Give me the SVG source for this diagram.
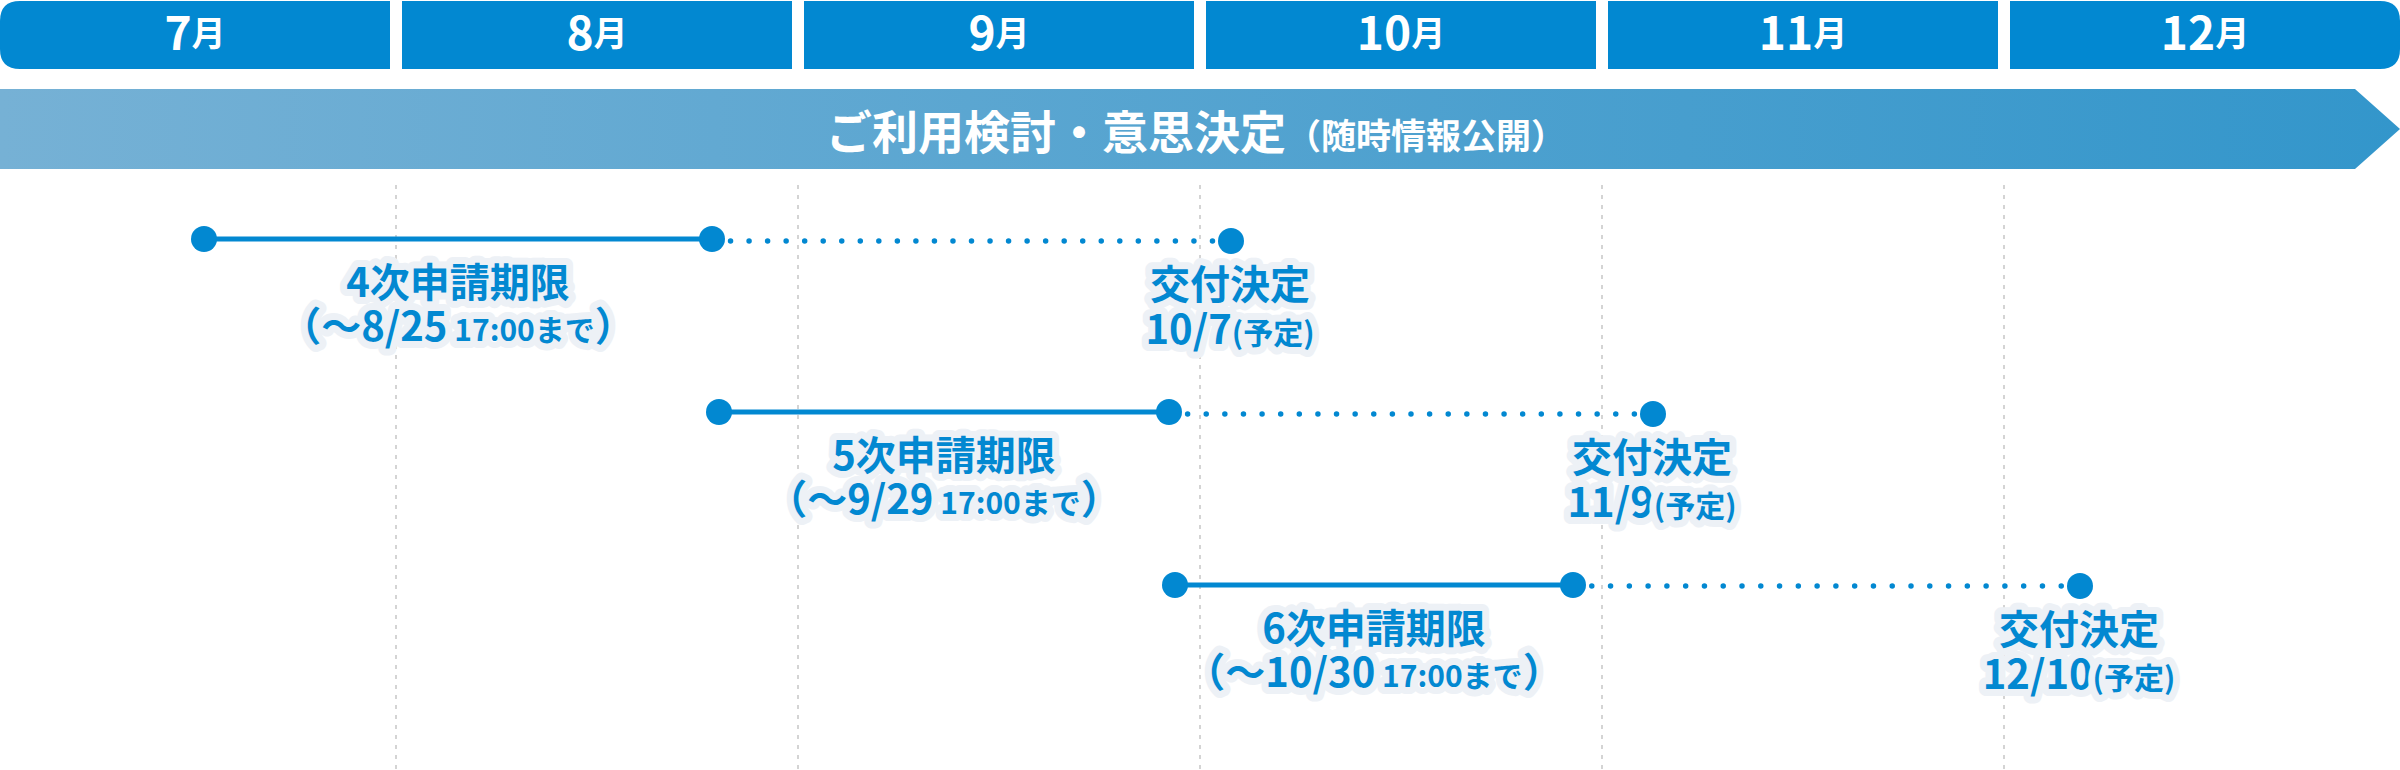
<svg xmlns="http://www.w3.org/2000/svg" width="2400" height="770" viewBox="0 0 2400 770">
  <defs>
    <linearGradient id="bannerGrad" x1="0" y1="0" x2="1" y2="0">
      <stop offset="0" stop-color="#76B1D5"/>
      <stop offset="1" stop-color="#3396CB"/>
    </linearGradient>
    <style>
      text { font-family: "Noto Sans CJK JP", "Noto Sans CJK SC", sans-serif; font-weight: 700; }
      .cell { fill: #0288D1; }
      .month { fill: #FFFFFF; text-anchor: middle; }
      .mnum { font-size: 46px; }
      .mk { font-size: 34px; }
      .title { fill: #FFFFFF; text-anchor: middle; }
      .grid { stroke: #D4D4D4; stroke-width: 2; stroke-dasharray: 4 6; }
      .solid { stroke: #0288D1; stroke-width: 5; }
      .dotted { stroke: #0288D1; stroke-width: 5.5; stroke-linecap: round; }
      .dot { fill: #0288D1; }
      .lbl { fill: #0288D1; stroke: #EDF1F6; stroke-width: 14; stroke-linejoin: round; paint-order: stroke; text-anchor: middle; font-size: 40px; }
      .sm { font-size: 30px; }
    </style>
  </defs>

  <!-- month header -->
  <g id="months">
    <g id="m7">
      <path class="cell" d="M20,1 H390 V69 H20 Q0,69 0,49 V21 Q0,1 20,1 Z"/>
      <text class="month" x="195" y="50"><tspan class="mnum">7</tspan><tspan class="mk" dy="-4">月</tspan></text>
    </g>
    <g id="m8">
      <rect class="cell" x="402" y="1" width="390" height="68"/>
      <text class="month" x="597" y="50"><tspan class="mnum">8</tspan><tspan class="mk" dy="-4">月</tspan></text>
    </g>
    <g id="m9">
      <rect class="cell" x="804" y="1" width="390" height="68"/>
      <text class="month" x="999" y="50"><tspan class="mnum">9</tspan><tspan class="mk" dy="-4">月</tspan></text>
    </g>
    <g id="m10">
      <rect class="cell" x="1206" y="1" width="390" height="68"/>
      <text class="month" x="1401" y="50"><tspan class="mnum">10</tspan><tspan class="mk" dy="-4">月</tspan></text>
    </g>
    <g id="m11">
      <rect class="cell" x="1608" y="1" width="390" height="68"/>
      <text class="month" x="1803" y="50"><tspan class="mnum">11</tspan><tspan class="mk" dy="-4">月</tspan></text>
    </g>
    <g id="m12">
      <path class="cell" d="M2010,1 H2380 Q2400,1 2400,21 V49 Q2400,69 2380,69 H2010 Z"/>
      <text class="month" x="2205" y="50"><tspan class="mnum">12</tspan><tspan class="mk" dy="-4">月</tspan></text>
    </g>
  </g>

  <!-- banner -->
  <g id="banner">
    <path d="M0,89 H2355 L2400,129 L2355,169 H0 Z" fill="url(#bannerGrad)"/>
    <text class="title" x="1196" y="149"><tspan font-size="46">ご利用検討・意思決定</tspan><tspan font-size="35">（随時情報公開）</tspan></text>
  </g>

  <!-- grid lines -->
  <g id="grid">
    <line class="grid" x1="396" y1="185" x2="396" y2="770"/>
    <line class="grid" x1="798" y1="185" x2="798" y2="770"/>
    <line class="grid" x1="1200" y1="185" x2="1200" y2="770"/>
    <line class="grid" x1="1602" y1="185" x2="1602" y2="770"/>
    <line class="grid" x1="2004" y1="185" x2="2004" y2="770"/>
  </g>

  <!-- connectors -->
  <g id="connectors">
    <line class="solid" x1="204" y1="239" x2="712" y2="239"/>
    <line class="dotted" x1="712" y1="241" x2="1231" y2="241" stroke-dasharray="0 18.536"/>
    <line class="solid" x1="719" y1="412" x2="1169" y2="412"/>
    <line class="dotted" x1="1169" y1="414" x2="1653" y2="414" stroke-dasharray="0 18.615"/>
    <line class="solid" x1="1175" y1="585" x2="1573" y2="585"/>
    <line class="dotted" x1="1573" y1="586" x2="2080" y2="586" stroke-dasharray="0 18.778"/>
  </g>

  <!-- row 1 -->
  <g id="r1-start"><circle class="dot" cx="204" cy="239" r="13"/></g>
  <g id="r1-deadline">
    <circle class="dot" cx="712" cy="239" r="13"/>
    <text class="lbl"><tspan x="458" y="297">4次申請期限</tspan><tspan x="458" y="341">（～8/25<tspan class="sm"> 17:00まで</tspan>）</tspan></text>
  </g>
  <g id="r1-decision">
    <circle class="dot" cx="1231" cy="241" r="13"/>
    <text class="lbl"><tspan x="1230" y="299">交付決定</tspan><tspan x="1230" y="344">10/7<tspan class="sm">(予定)</tspan></tspan></text>
  </g>

  <!-- row 2 -->
  <g id="r2-start"><circle class="dot" cx="719" cy="412" r="13"/></g>
  <g id="r2-deadline">
    <circle class="dot" cx="1169" cy="412" r="13"/>
    <text class="lbl"><tspan x="944" y="470">5次申請期限</tspan><tspan x="944" y="514">（～9/29<tspan class="sm"> 17:00まで</tspan>）</tspan></text>
  </g>
  <g id="r2-decision">
    <circle class="dot" cx="1653" cy="414" r="13"/>
    <text class="lbl"><tspan x="1652" y="472">交付決定</tspan><tspan x="1652" y="517">11/9<tspan class="sm">(予定)</tspan></tspan></text>
  </g>

  <!-- row 3 -->
  <g id="r3-start"><circle class="dot" cx="1175" cy="585" r="13"/></g>
  <g id="r3-deadline">
    <circle class="dot" cx="1573" cy="585" r="13"/>
    <text class="lbl"><tspan x="1374" y="643">6次申請期限</tspan><tspan x="1374" y="687">（～10/30<tspan class="sm"> 17:00まで</tspan>）</tspan></text>
  </g>
  <g id="r3-decision">
    <circle class="dot" cx="2080" cy="586" r="13"/>
    <text class="lbl"><tspan x="2079" y="644">交付決定</tspan><tspan x="2079" y="689">12/10<tspan class="sm">(予定)</tspan></tspan></text>
  </g>
</svg>
